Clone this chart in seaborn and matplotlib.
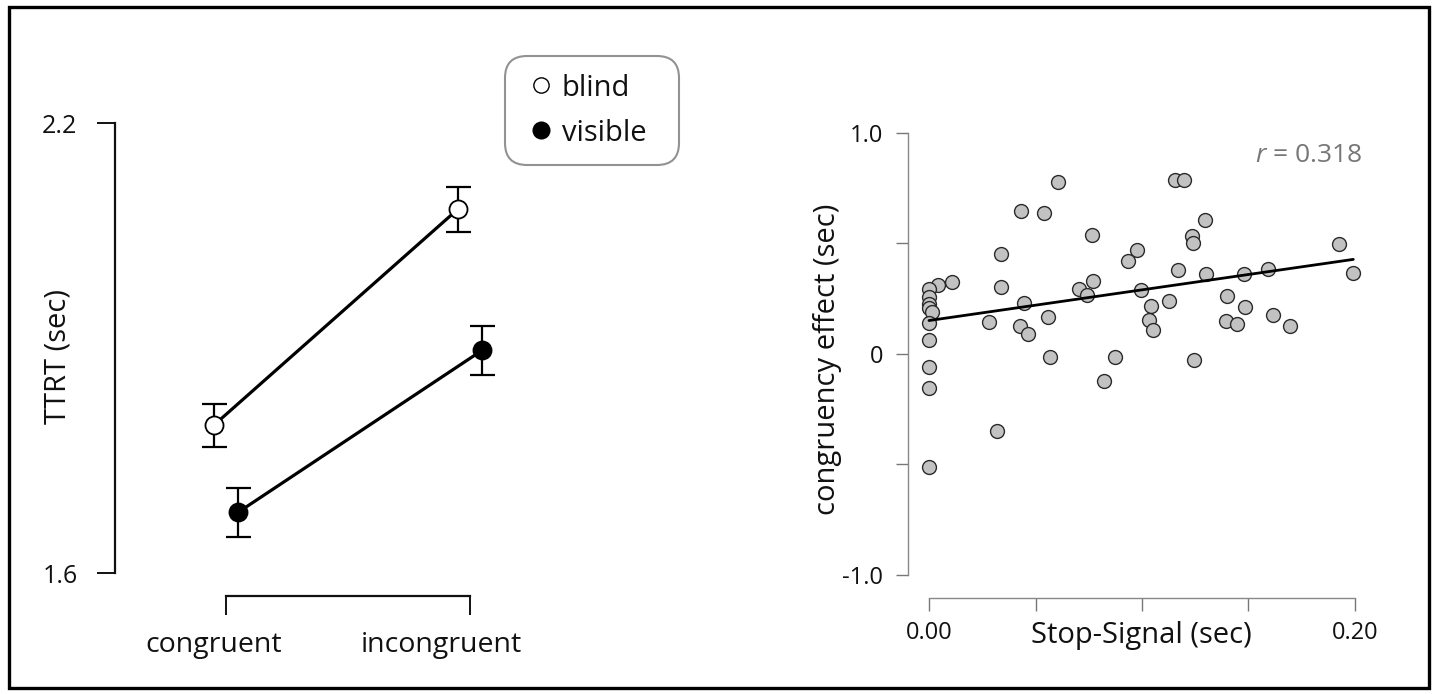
import numpy as np
import pandas as pd
import matplotlib
matplotlib.use("Agg")
import matplotlib.pyplot as plt
from matplotlib.lines import Line2D
from matplotlib.patches import Rectangle
from matplotlib.transforms import ScaledTranslation
import seaborn as sns

# ---------------- data ----------------
conditions = ["congruent", "incongruent"]
groups = ["blind", "visible"]
blind_mean = [1.797, 2.085]
blind_se = [0.029, 0.030]
visible_mean = [1.681, 1.897]
visible_se = [0.033, 0.033]

stop_signal = [0.0604, 0.1155, 0.1196, 0.0432, 0.0540, 0.1297, 0.0765, 0.1236, 0.1238, 0.1926,
               0.0336, 0.0977, 0.0936, 0.1167, 0.1593, 0.1299, 0.1477, 0.1992, 0.0110, 0.0041,
               0.0336, 0.0772, 0.0703, 0.0740, 0.0995, 0.0446, 0.1125, 0.1397, 0.1482, 0.1042,
               0.0557, 0.0280, 0.1034, 0.1394, 0.1444, 0.1613, 0.1695, 0.0429, 0.0465, 0.1050,
               0.0568, 0.0873, 0.1244, 0.0822, 0.0319,
               0.0, 0.0, 0.0, 0.0, 0.0016, 0.0, 0.0, 0.0, 0.0, 0.0]
congruency_effect = [0.777, 0.785, 0.788, 0.644, 0.638, 0.605, 0.539, 0.533, 0.500, 0.498,
                     0.453, 0.468, 0.420, 0.380, 0.385, 0.362, 0.361, 0.365, 0.326, 0.311,
                     0.300, 0.329, 0.291, 0.264, 0.288, 0.229, 0.239, 0.259, 0.212, 0.214,
                     0.168, 0.145, 0.153, 0.150, 0.135, 0.174, 0.126, 0.124, 0.089, 0.105,
                     -0.014, -0.017, -0.030, -0.124, -0.348,
                     0.294, 0.258, 0.227, 0.208, 0.188, 0.139, 0.062, -0.062, -0.153, -0.512]
r_label = "0.318"

left_yticks = [1.6, 2.2]
left_yticklabels = ["1.6", "2.2"]
right_yticks = [-1.0, -0.5, 0.0, 0.5, 1.0]
right_yticklabels = ["-1.0", "", "0", "", "1.0"]
right_xticks = [0.0, 0.05, 0.10, 0.15, 0.20]
right_xticklabels = ["0.00", "", "", "", "0.20"]

# ---------------- style ----------------
sns.set_theme(style="white")
plt.rcParams["font.family"] = ["Open Sans", "DejaVu Sans"]
plt.rcParams["mathtext.fontset"] = "custom"
plt.rcParams["mathtext.rm"] = "Open Sans"
plt.rcParams["mathtext.it"] = "Open Sans:italic"

W, H = 1432, 694
fig = plt.figure(figsize=(W / 100, H / 100), dpi=100)
fig.patch.set_facecolor("white")

# ---------------- left panel ----------------
ax1 = fig.add_axes([115 / W, 1 - 596 / H, (700 - 115) / W, (596 - 60) / H])
rows = []
for g, means, ses in [("blind", blind_mean, blind_se), ("visible", visible_mean, visible_se)]:
    for i, c in enumerate(conditions):
        rows.append(dict(group=g, condition=c, pos=i, mean=means[i], se=ses[i]))
df = pd.DataFrame(rows)
offsets = {"blind": -0.05, "visible": 0.05}
df["x"] = df["pos"] + df["group"].map(offsets)

face = {"blind": "white", "visible": "black"}
for g in groups:
    sub = df[df["group"] == g]
    ax1.errorbar(sub["x"], sub["mean"], yerr=sub["se"], fmt="none", ecolor="black",
                 elinewidth=1.6, capsize=9, capthick=1.6, zorder=2)
    sns.lineplot(data=sub, x="x", y="mean", ax=ax1, color="black", lw=2.3,
                 marker="o", markersize=13, markerfacecolor=face[g],
                 markeredgecolor="black", markeredgewidth=1.3, zorder=3,
                 legend=False, errorbar=None)

ax1.set_xlim(-(226 - 115) / 244, (700 - 226) / 244)
ax1.set_ylim(1.6 - (596 - 573) / 750, 2.2 + (123 - 60) / 750)
ax1.set_yticks(left_yticks)
ax1.set_yticklabels(left_yticklabels)
ax1.set_xticks([0, 1])
ax1.set_xticklabels(conditions)
for s in ["top", "right"]:
    ax1.spines[s].set_visible(False)
ax1.spines["left"].set_bounds(1.6, 2.2)
ax1.spines["bottom"].set_bounds(0, 1)
for s in ["left", "bottom"]:
    ax1.spines[s].set_color("#111111")
    ax1.spines[s].set_linewidth(1.6)
ax1.tick_params(axis="both", direction="out", width=1.4, color="#111111",
                labelcolor="#111111", bottom=True, left=True)
ax1.tick_params(axis="y", length=13, pad=14, labelsize=18)
ax1.tick_params(axis="x", length=14, pad=11, labelsize=20.5)
label_shift = [-12.5, -29]
for lab, dx in zip(ax1.get_xticklabels(), label_shift):
    lab.set_transform(lab.get_transform() + ScaledTranslation(dx / 100, 0, fig.dpi_scale_trans))
ax1.set_xlabel("")
ax1.set_ylabel("TTRT (sec)", fontsize=21, color="#111111", va="center")
ax1.yaxis.set_label_coords((58 - 115) / 585, (596 - 356) / 536)

# legend
handles = [Line2D([], [], marker="o", ls="none", mfc="white", mec="black", ms=11, mew=1.0),
           Line2D([], [], marker="o", ls="none", mfc="black", mec="black", ms=12, mew=1.0)]
leg = fig.legend(handles, groups, loc="upper left",
                 bbox_to_anchor=(505 / W, 1 - 158 / H, 174 / W, 102 / H), mode="expand",
                 frameon=True, fancybox=True, fontsize=21, handlelength=1.3,
                 handletextpad=0.05, labelspacing=0.55, borderpad=0.6, borderaxespad=0)
frame = leg.get_frame()
frame.set_edgecolor("#777777")
frame.set_linewidth(1.5)
frame.set_boxstyle("round,pad=0,rounding_size=0.75")
for t in leg.get_texts():
    t.set_color("#111111")

# ---------------- right panel ----------------
ax2 = fig.add_axes([908 / W, 1 - 598.3 / H, (1380 - 908) / W, (598.3 - 100) / H])
sns.regplot(x=np.array(stop_signal), y=np.array(congruency_effect), ax=ax2, ci=None,
            color="#c2c2c2",
            scatter_kws=dict(s=100, edgecolors="#2a2a2a", linewidths=1.0, alpha=1, zorder=2),
            line_kws=dict(color="black", lw=2.0, zorder=3))
ax2.set_xlim((908 - 929) / 2130, (1380 - 929) / 2130)
ax2.set_ylim((353.7 - 598.3) / 221, (353.7 - 100) / 221)
ax2.set_xticks(right_xticks)
ax2.set_xticklabels(right_xticklabels)
ax2.set_yticks(right_yticks)
ax2.set_yticklabels(right_yticklabels)
for s in ["top", "right"]:
    ax2.spines[s].set_visible(False)
ax2.spines["left"].set_bounds(-1.0, 1.0)
ax2.spines["bottom"].set_bounds(0.0, 0.2)
for s in ["left", "bottom"]:
    ax2.spines[s].set_color("#888888")
    ax2.spines[s].set_linewidth(1.0)
ax2.tick_params(axis="both", direction="out", length=9, width=1.0, color="#777777",
                labelsize=17, labelcolor="#111111", bottom=True, left=True)
ax2.tick_params(axis="y", pad=9)
ax2.tick_params(axis="x", pad=7)
ax2.set_xlabel("Stop-Signal (sec)", fontsize=21, color="#111111")
ax2.xaxis.set_label_coords((1141 - 908) / 472, -0.075)
ax2.xaxis.label.set_va("center")
ax2.set_ylabel("congruency effect (sec)", fontsize=21, color="#111111", va="center")
ax2.yaxis.set_label_coords((828 - 908) / 472, (598.3 - 359) / 498.3)
ax2.text((1362 - 929) / 2130, (353.7 - 155) / 221, r"$r$ = " + r_label, ha="right",
         va="center", fontsize=19, color="#777777")

# figure border
fig.add_artist(Rectangle((8.5 / W, 6 / H), (1429 - 8.5) / W, (687 - 6) / H,
                         transform=fig.transFigure, fill=False, lw=2.4, ec="black"))

fig.savefig("out.png", dpi=100)
